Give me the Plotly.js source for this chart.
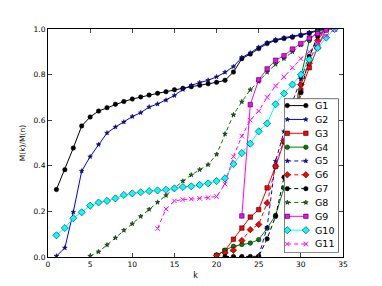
<!DOCTYPE html>
<html><head><meta charset="utf-8">
<script src="https://cdn.plot.ly/plotly-3.0.1.min.js"></script>
<style>body{margin:0;padding:0;background:#fff}#c{width:382px;height:286px}</style>
</head><body><div id="c"></div>
<script>
// k values / series values
const g1k = [1,2,3,4,5,6,7,8,9,10,11,12,13,14,15,16,17,18,19,20,21,22,23,24,25,26,27,28,29,30,31,32,33];
const g1v = [0.296,0.383,0.478,0.575,0.614,0.640,0.655,0.670,0.682,0.693,0.702,0.710,0.718,0.725,0.734,0.740,0.747,0.753,0.760,0.766,0.775,0.811,0.870,0.890,0.914,0.936,0.950,0.958,0.964,0.972,0.981,0.993,1.0];
const g2k = [1,2,3,4,5,6,7,8,9,10,11,12,13,14,15,16,17,18,19,20,21,22,23,24,25,26,27,28,29,30,31,32,33];
const g2v = [0.004,0.040,0.197,0.377,0.440,0.493,0.544,0.570,0.592,0.616,0.633,0.658,0.671,0.688,0.708,0.735,0.753,0.765,0.775,0.790,0.810,0.835,0.875,0.895,0.920,0.940,0.953,0.962,0.968,0.975,0.985,0.995,1.0];
const g3k = [20,21,22,23,24,25,26,27,28,29,30,31,32,33];
const g3v = [0.007,0.028,0.078,0.127,0.175,0.208,0.303,0.397,0.505,0.610,0.730,0.830,0.920,1.0];
const g4k = [20,21,22,23,24,25,26,27,28,29,30,31,32,33];
const g4v = [0.007,0.030,0.047,0.055,0.061,0.076,0.126,0.183,0.303,0.550,0.790,0.950,0.990,1.0];
const g5k = [25,26,27,28,29,30,31,32,33];
const g5v = [0.005,0.130,0.420,0.550,0.680,0.780,0.880,0.960,1.0];
const g6k = [20,21,22,23,24,25,26,27,28,29,30,31,32,33];
const g6v = [0.007,0.018,0.030,0.072,0.120,0.143,0.237,0.398,0.510,0.630,0.756,0.850,0.950,1.0];
const g7k = [21,22,23,24,25,26,27,28,29,30,31,32,33];
const g7v = [0.002,0.002,0.002,0.002,0.003,0.080,0.178,0.350,0.540,0.720,0.880,0.970,1.0];
const g8k = [5,6,7,8,9,10,11,12,13,14,15,16,17,18,19,20,21,22,23,24,25,26,27,28,29,30,31,32,33];
const g8v = [0.004,0.023,0.053,0.084,0.117,0.146,0.178,0.209,0.240,0.270,0.303,0.333,0.360,0.383,0.405,0.450,0.540,0.624,0.681,0.734,0.770,0.810,0.845,0.870,0.900,0.930,0.960,0.980,1.0];
const g9k = [23,24,25,26,27,28,29,30,31,32,33,34];
const g9v = [0.180,0.668,0.777,0.825,0.863,0.883,0.912,0.936,0.960,0.980,0.995,1.0];
const g10k = [1,2,3,4,5,6,7,8,9,10,11,12,13,14,15,16,17,18,19,20,21,22,23,24,25,26,27,28,29,30,31,32,33,34];
const g10v = [0.095,0.127,0.170,0.196,0.225,0.239,0.246,0.257,0.272,0.279,0.284,0.289,0.292,0.295,0.301,0.307,0.310,0.316,0.323,0.333,0.345,0.408,0.456,0.497,0.551,0.586,0.670,0.717,0.756,0.800,0.866,0.917,0.962,1.0];
const g11k = [13,14,15,16,17,18,19,20,21,22,23,24,25,26,27,28,29,30,31,32,33,34];
const g11v = [0.125,0.210,0.246,0.252,0.254,0.257,0.260,0.265,0.320,0.440,0.530,0.600,0.640,0.700,0.750,0.790,0.830,0.870,0.900,0.940,0.970,1.0];
const names = ['G1','G2','G3','G4','G5','G6','G7','G8','G9','G10','G11'];
const xTicks = [0,5,10,15,20,25,30,35];
const yTicks = [0,0.2,0.4,0.6,0.8,1.0];
const yTickText = ['0.0','0.2','0.4','0.6','0.8','1.0'];

const ks = [g1k,g2k,g3k,g4k,g5k,g6k,g7k,g8k,g9k,g10k,g11k];
const vs = [g1v,g2v,g3v,g4v,g5v,g6v,g7v,g8v,g9v,g10v,g11v];
const colors = ['#000000','#0000ff','#ff0000','#007f00','#0000ff','#ff0000','#000000','#007f00','#ff00ff','#00ffff','#ff00ff'];
const symbols = ['circle','star','square','circle','star','diamond','circle','star','square','diamond','x-thin'];
const DASH = '4px,3px';
const dashes = ['solid','solid','solid','solid',DASH,DASH,DASH,DASH,'solid','solid',DASH];
const msizes = [4.5,3.5,4.5,4.5,3.5,5,4.5,3.5,4.5,5.5,4.5];

function mk(i){
  return {symbol:symbols[i], size:msizes[i], color:colors[i],
    line:{color: symbols[i]==='x-thin' ? colors[i] : '#000000', width: symbols[i]==='x-thin'?1:0.5}};
}
const traces = names.map((n,i)=>({
  x: ks[i], y: vs[i], name: n, type:'scatter', mode:'lines+markers', showlegend:false,
  line:{color:colors[i], width:1, dash:dashes[i]}, marker: mk(i)
}));

// custom legend (matplotlib-like, compact rows) in its own overlay subplot
const LH = 154, rowTop = 7, rowStep = 13.84;
traces.push({x:[0,1,1,0,0], y:[0,0,LH,LH,0], xaxis:'x2', yaxis:'y2', type:'scatter', mode:'lines',
  fill:'toself', fillcolor:'#ffffff', line:{color:'#000', width:1}, showlegend:false, hoverinfo:'skip'});
const annotations = [];
names.forEach((n,i)=>{
  const yy = rowTop + rowStep*i;
  traces.push({x:[0.06,0.40], y:[yy,yy], xaxis:'x2', yaxis:'y2', type:'scatter', mode:'lines+markers',
    line:{color:colors[i], width:1, dash:dashes[i]}, marker: mk(i), showlegend:false, hoverinfo:'skip'});
  annotations.push({xref:'x2', yref:'y2', x:0.53, y:yy, text:n, showarrow:false, xanchor:'left', yanchor:'middle',
    font:{family:'DejaVu Sans', size:9.5, color:'#000'}});
});

const layout = {
  width:382, height:286,
  margin:{l:47.7, r:38.7, t:28.7, b:29.3, pad:0},
  paper_bgcolor:'#fff', plot_bgcolor:'#fff',
  font:{family:'DejaVu Sans', size:7.5, color:'#000'},
  showlegend:false,
  annotations: annotations,
  xaxis:{range:[0,35], tickvals:xTicks, ticks:'inside', ticklen:4,
    showline:true, linecolor:'#000', linewidth:1, mirror:'ticks', showgrid:false, zeroline:false,
    title:{text:'k', font:{size:8}, standoff:4}},
  yaxis:{range:[0,1], tickvals:yTicks, ticktext:yTickText,
    ticks:'inside', ticklen:4, showline:true, linecolor:'#000', linewidth:1, mirror:'ticks',
    showgrid:false, zeroline:false, title:{text:'M(k)/M(n)', font:{size:7.5}, standoff:6}},
  xaxis2:{domain:[0.800,0.9855], anchor:'y2', range:[0,1], visible:false, fixedrange:true},
  yaxis2:{domain:[0.0193,0.6947], anchor:'x2', range:[LH,0], visible:false, fixedrange:true}
};
Plotly.newPlot('c', traces, layout, {displayModeBar:false, staticPlot:true});
</script></body></html>
